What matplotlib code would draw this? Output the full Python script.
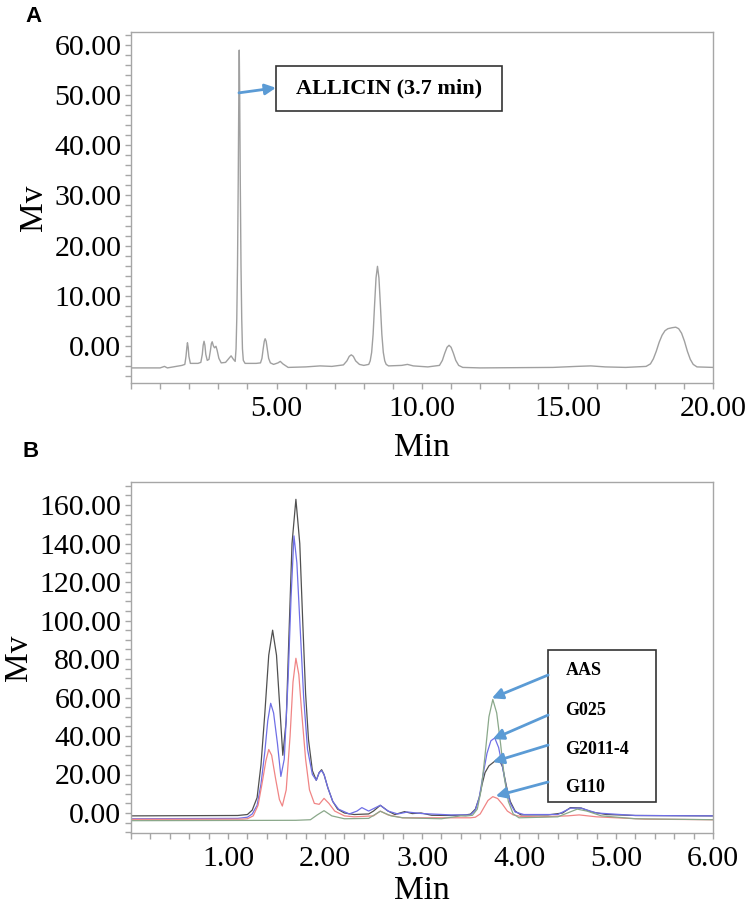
import matplotlib
matplotlib.use("Agg")
import matplotlib.pyplot as plt
from matplotlib.ticker import MultipleLocator, FormatStrFormatter
from matplotlib.patches import Rectangle

# ---------------- Panel A data (time [min], signal [mV]) ----------------
a_time = [0.0, 1.0, 1.15, 1.25, 1.55, 1.75, 1.85, 1.89, 1.92, 1.94, 1.965, 1.99, 2.04,
          2.3, 2.4, 2.45, 2.48, 2.51, 2.54, 2.57, 2.62, 2.68, 2.73, 2.76, 2.79, 2.83,
          2.87, 2.92, 2.96, 3.02, 3.1, 3.25, 3.38, 3.44, 3.52, 3.58, 3.61, 3.635, 3.66,
          3.685, 3.705, 3.72, 3.735, 3.755, 3.78, 3.805, 3.83, 3.86, 3.92, 4.3, 4.45,
          4.5, 4.54, 4.58, 4.61, 4.645, 4.685, 4.73, 4.79, 4.9, 5.05, 5.13, 5.22, 5.4,
          6.0, 6.5, 6.9, 7.3, 7.42, 7.5, 7.57, 7.64, 7.72, 7.85, 8.0, 8.17, 8.22, 8.27,
          8.32, 8.37, 8.42, 8.47, 8.52, 8.57, 8.62, 8.67, 8.72, 8.77, 8.85, 9.3, 9.5,
          9.7, 10.2, 10.6, 10.7, 10.78, 10.86, 10.93, 11.0, 11.08, 11.16, 11.26, 11.4,
          12.0, 14.5, 15.3, 15.8, 16.3, 17.0, 17.7, 17.85, 17.95, 18.05, 18.15, 18.25,
          18.35, 18.45, 18.6, 18.72, 18.82, 18.92, 19.02, 19.12, 19.22, 19.32, 19.45,
          20.0]
a_signal = [-4.3, -4.3, -4.0, -4.3, -4.0, -3.8, -3.6, -2.0, -0.2, 0.7, -0.2, -2.0, -3.4,
            -3.4, -3.2, -1.6, 0.2, 1.0, 0.2, -1.6, -2.8, -2.6, -0.8, 0.5, 0.9, 0.1,
            -0.3, 0.0, -0.8, -2.4, -3.3, -3.2, -2.3, -1.9, -2.6, -3.0, -0.5, 5.5, 16.0,
            33.0, 50.0, 58.9, 50.0, 33.0, 16.0, 5.5, -0.5, -2.8, -3.4, -3.4, -3.3,
            -2.4, -0.6, 1.0, 1.5, 1.0, -0.6, -2.4, -3.3, -3.6, -3.3, -3.0, -3.5, -4.2,
            -4.1, -3.9, -4.0, -3.7, -2.9, -2.0, -1.7, -2.0, -2.9, -3.6, -3.8, -3.6, -2.9, -1.2,
            2.4, 8.2, 13.6, 15.9, 13.6, 8.2, 2.4, -1.2, -2.9, -3.6, -3.9, -3.8, -3.6,
            -3.9, -4.1, -3.8, -2.8, -1.4, -0.2, 0.2, -0.2, -1.4, -2.8, -3.8, -4.2,
            -4.3, -4.2, -4.0, -3.9, -4.1, -4.2, -4.0, -3.5, -2.5, -1.0, 0.8, 2.2,
            3.1, 3.5, 3.7, 3.8, 3.5, 2.6, 1.0, -1.0, -2.6, -3.6, -4.1,
            -4.2]
a_xticks = [5, 10, 15, 20]
a_yticks = [0, 10, 20, 30, 40, 50, 60]
a_label = "ALLICIN (3.7 min)"

# ---------------- Panel B data ----------------
b_black_t = [0.0, 1.1, 1.2, 1.25, 1.3, 1.34, 1.38, 1.42, 1.46, 1.5, 1.53, 1.565, 1.6, 1.63,
             1.66, 1.70, 1.74, 1.77, 1.8, 1.83, 1.87, 1.91, 1.94, 1.965, 1.99, 2.03, 2.08,
             2.13, 2.2, 2.3, 2.45, 2.5, 2.57, 2.65, 2.72, 2.82, 2.9, 2.99, 3.1, 3.3, 3.45,
             3.5, 3.55, 3.59, 3.62, 3.65, 3.69, 3.74, 3.79, 3.83, 3.87, 3.91, 3.96, 4.02,
             4.3, 4.45, 4.53, 4.64, 4.75, 4.9, 5.2, 6.0]
b_black_v = [-1.5, -1.3, -0.8, 1.5, 8, 25, 52, 82, 95, 82, 58, 30, 48, 95,
             140, 163, 140, 100, 62, 38, 22, 17, 21, 22.5, 20, 13, 6,
             2, 0, -0.8, -0.5, 1, 4, 1, -0.8, 0.7, -0.3, 0, -1.2, -1.3, -1.0,
             -0.6, 2, 8, 15, 21, 24.5, 26.5, 28.4, 24, 14, 6, 1, -1.0,
             -1.0, 0, 2.8, 2.6, 0.5, -0.8, -1.3, -1.5]

b_blue_t = [0.0, 1.1, 1.2, 1.25, 1.3, 1.34, 1.38, 1.41, 1.44, 1.47, 1.51, 1.545, 1.58, 1.62,
            1.65, 1.68, 1.71, 1.74, 1.78, 1.82, 1.87, 1.91, 1.94, 1.965, 1.99, 2.03, 2.08,
            2.14, 2.25, 2.33, 2.38, 2.45, 2.57, 2.65, 2.75, 2.85, 3.0, 3.3, 3.5, 3.55,
            3.59, 3.63, 3.67, 3.71, 3.75, 3.79, 3.83, 3.87, 3.91, 3.96, 4.05, 4.4, 4.53,
            4.64, 4.8, 5.2, 6.0]
b_blue_v = [-3.0, -2.8, -2.2, -0.5, 4, 15, 32, 48, 57, 52, 36, 19, 28, 70,
            112, 144, 130, 100, 60, 33, 20, 17, 21, 22, 20, 13, 6,
            2, -0.5, 1, 2.8, 1, 4, 1, -0.5, 0.5, -0.3, -1, -1, 1.5,
            8, 20, 31, 37.5, 39, 34, 24, 13, 5, 0.5, -0.8, -0.8, 2.5,
            2.5, 0, -1.3, -1.5]

b_red_t = [0.0, 1.15, 1.2, 1.26, 1.31, 1.35, 1.39, 1.42, 1.45, 1.49, 1.53, 1.56, 1.6, 1.64,
           1.67, 1.70, 1.73, 1.76, 1.8, 1.84, 1.89, 1.94, 1.99, 2.04, 2.1, 2.2, 2.3, 2.5,
           2.57, 2.65, 2.8, 3.5, 3.55, 3.6, 3.64, 3.68, 3.73, 3.78, 3.83, 3.88, 3.94,
           4.02, 4.2, 4.5, 4.62, 4.8, 5.3, 6.0]
b_red_v = [-3.3, -3.2, -3.0, -1.5, 4, 15, 27, 33, 30, 18, 7, 3.6, 12, 40,
           68, 80.4, 72, 52, 28, 12, 5, 4.5, 7.6, 5, 1, -1.5, -2, -1.5,
           1.0, -1, -2.5, -2.5, -2.2, -0.5, 3, 6.5, 8.5, 7.5, 4.5, 1, -1,
           -1.8, -2, -1.5, -1, -2, -3.2, -3.5]

b_green_t = [0.0, 1.7, 1.85, 1.92, 1.99, 2.07, 2.2, 2.45, 2.57, 2.68, 2.8, 3.2, 3.4, 3.45,
             3.52, 3.57, 3.61, 3.65, 3.69, 3.73, 3.77, 3.81, 3.85, 3.89, 3.94, 4.0, 4.4,
             4.5, 4.6, 4.7, 4.85, 5.2, 6.0]
b_green_v = [-4.0, -3.8, -3.5, -1, 1.2, -1.5, -3.0, -2.8, 0.9, -1.5, -2.5, -3, -1.5, -1.6,
             -1.2, 2, 12, 30, 50, 59, 52, 36, 18, 6, -0.5, -2.5, -2,
             0, 2, 1, -1.5, -3, -3.5]

b_names = ["AAS", "G025", "G2011-4", "G110"]
b_arrow_tips_t = [3.72, 3.73, 3.73, 3.76]
b_arrow_tips_v = [59.6, 38.4, 26.5, 8.8]
b_xticks = [1, 2, 3, 4, 5, 6]
b_yticks = [0, 20, 40, 60, 80, 100, 120, 140, 160]

# ---------------- styling ----------------
SERIF = ["Liberation Serif", "DejaVu Serif"]
SPINE = "#a6a6a6"
ARROW = "#5b9bd5"
TICK_FS = 21.5
LABEL_FS = 24

fig = plt.figure(figsize=(7.5, 9.11), dpi=100)
W, H = 750.0, 911.0

def fx(px):
    return px / W

def fy(py):
    return 1 - py / H

axA = fig.add_axes([fx(131), fy(383), fx(713) - fx(131), fy(32) - fy(383)])
axB = fig.add_axes([fx(131), fy(833), fx(713) - fx(131), fy(482) - fy(833)])

def style(ax):
    for s in ax.spines.values():
        s.set_color(SPINE)
        s.set_linewidth(1.0)
    ax.tick_params(which="both", direction="out", color=SPINE, length=4, width=1,
                   labelsize=TICK_FS, pad=3)
    ax.tick_params(axis="x", which="both", top=False, pad=5)
    ax.tick_params(axis="y", which="both", right=False)
    for lab in ax.get_xticklabels() + ax.get_yticklabels():
        lab.set_family(SERIF)
    ax.xaxis.set_major_formatter(FormatStrFormatter("%.2f"))
    ax.yaxis.set_major_formatter(FormatStrFormatter("%.2f"))

# Panel A
axA.plot(a_time, a_signal, color="#a0a0a0", lw=1.0)
axA.set_xlim(0, 20)
axA.set_ylim(-7.3, 62.5)
axA.set_xticks(a_xticks)
axA.set_yticks(a_yticks)
axA.xaxis.set_minor_locator(MultipleLocator(1))
axA.yaxis.set_minor_locator(MultipleLocator(2))
style(axA)
axA.set_xlabel("Min", fontsize=LABEL_FS, family=SERIF, labelpad=8)
axA.set_ylabel("Mv", fontsize=LABEL_FS, family=SERIF, labelpad=4)
axA.add_patch(Rectangle((4.98, 46.8), 12.75 - 4.98, 55.75 - 46.8, fill=True,
                        facecolor="white", edgecolor="#333333", lw=1.2, zorder=5))
axA.text((4.98 + 12.75) / 2, 51.3, a_label, ha="center", va="center",
         fontsize=16, fontweight="bold", family=SERIF, zorder=6)
axA.annotate("", xy=(4.98, 51.4), xytext=(3.71, 50.4),
             arrowprops=dict(arrowstyle="-|>", color=ARROW, lw=2, mutation_scale=16,
                             shrinkA=0, shrinkB=0), zorder=6)

# Panel B
axB.plot(b_black_t, b_black_v, color="#505050", lw=0.9)
axB.plot(b_blue_t, b_blue_v, color="#6f6fe6", lw=0.9)
axB.plot(b_red_t, b_red_v, color="#f08585", lw=0.9)
axB.plot(b_green_t, b_green_v, color="#8aa88a", lw=0.9)
axB.set_xlim(0, 6)
axB.set_ylim(-10.4, 172)
axB.set_xticks(b_xticks)
axB.set_yticks(b_yticks)
axB.xaxis.set_minor_locator(MultipleLocator(0.2))
axB.yaxis.set_minor_locator(MultipleLocator(5))
style(axB)
axB.set_xlabel("Min", fontsize=LABEL_FS, family=SERIF, labelpad=3)
axB.set_ylabel("Mv", fontsize=LABEL_FS, family=SERIF, labelpad=4)

box_l, box_r, box_b, box_t = 4.30, 5.41, 5.7, 84.7
axB.add_patch(Rectangle((box_l, box_b), box_r - box_l, box_t - box_b, fill=True,
                        facecolor="white", edgecolor="#333333", lw=1.2, zorder=5))
name_v = [74.3, 53.5, 33.2, 13.5]
tail_v = [71.7, 50.9, 35.3, 16.1]
for name, nv, tv, tt, tipv in zip(b_names, name_v, tail_v, b_arrow_tips_t, b_arrow_tips_v):
    axB.text(4.48, nv, name, ha="left", va="center", fontsize=13,
             fontweight="bold", family=SERIF, zorder=6)
    axB.annotate("", xy=(tt, tipv), xytext=(box_l, tv),
                 arrowprops=dict(arrowstyle="-|>", color=ARROW, lw=2, mutation_scale=16,
                                 shrinkA=0, shrinkB=0), zorder=6)

fig.text(fx(33), fy(17), "A", fontsize=16, fontweight="bold",
         family=["Liberation Sans", "DejaVu Sans"], ha="center", va="center")
fig.text(fx(31), fy(452), "B", fontsize=16, fontweight="bold",
         family=["Liberation Sans", "DejaVu Sans"], ha="center", va="center")

fig.savefig("out.png", dpi=100)
